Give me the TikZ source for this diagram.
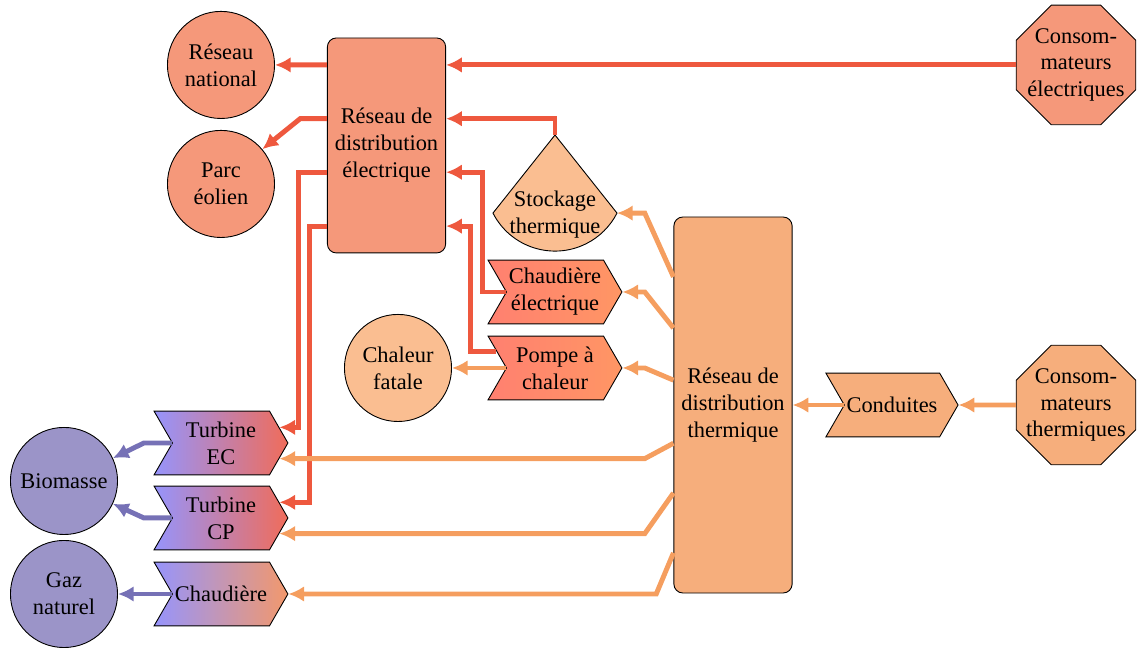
\documentclass[tikz,border=0pt]{standalone}
\usepackage{fontspec}
\setmainfont{Liberation Serif}
\usepackage{xcolor}
\definecolor{elecred}{RGB}{238, 88, 62}
\definecolor{thermorange}{RGB}{245, 158, 95}
\definecolor{fuelpurple}{RGB}{118, 113, 182}
\definecolor{elecfill}{RGB}{245, 152, 122}
\definecolor{thermfill}{RGB}{246, 174, 124}
\definecolor{storefill}{RGB}{250, 190, 145}
\definecolor{fuelfill}{RGB}{155, 148, 200}
\definecolor{gradblue}{RGB}{150, 148, 252}
\definecolor{gradred}{RGB}{240, 108, 90}
\definecolor{gradorange}{RGB}{242, 152, 108}
\definecolor{gradsalmon}{RGB}{255, 128, 112}
\definecolor{gradpeach}{RGB}{255, 150, 100}
\usepackage{tikz}
\usetikzlibrary{arrows.meta, positioning, calc, shapes.geometric, shapes.symbols}

\tikzset{
    hub/.style={draw, rounded corners=4pt, align=center, minimum width=1.79cm},
    source/.style={draw, circle, align=center, minimum size=1.68cm, inner sep=0pt},
    conso/.style={draw, regular polygon, regular polygon sides=8, align=center, minimum size=2.03cm, inner sep=-8pt},
    conv/.style={draw, signal, signal from=west, signal to=east, signal pointer angle=120, align=center, minimum width=2.1cm, minimum height=1cm, inner sep=1pt},
    flow/.style={line width=2.2pt, -{Latex[length=7pt, width=7pt]}},
    elec/.style={flow, elecred},
    therm/.style={flow, thermorange},
    fuel/.style={flow, fuelpurple},
}

\begin{document}
\begin{tikzpicture}
    \useasboundingbox (0,0) rectangle (17.885,10.166);

    % electricity side
    \node[source, fill=elecfill] (natl) at (3.467, 9.147) {Réseau\\national};
    \node[source, fill=elecfill] (eolien) at (3.467, 7.280) {Parc\\éolien};
    \node[hub, fill=elecfill, minimum height=3.373cm] (relec) at (6.064, 7.884) {Réseau de\\distribution\\électrique};
    \node[conso, fill=elecfill] (consoelec) at (16.881, 9.147) {Consom-\\mateurs\\électriques};

    % storage
    \coordinate (stockc) at (8.707, 6.793);
    \coordinate (stocktop) at ($(stockc)+(0,1.255)$);
    \coordinate (stockright) at ($(stockc)+(0.973,0.03)$);
    \draw[fill=storefill] (stocktop) -- ($(stockc)+(-0.973,0.03)$) arc[start angle=207, end angle=333, radius=1.092] -- cycle;
    \node[align=center] (stock) at (stockc) {Stockage\\thermique};

    % conversion
    \node[conv, left color=gradsalmon, right color=gradpeach] (chelec) at (8.707, 5.585) {Chaudière\\électrique};
    \node[conv, left color=gradsalmon, right color=gradpeach] (pac) at (8.707, 4.393) {Pompe à\\chaleur};
    \node[source, fill=storefill] (fatale) at (6.244, 4.393) {Chaleur\\fatale};
    \node[conv, left color=gradblue, right color=gradred] (turbEC) at (3.467, 3.216) {Turbine\\EC};
    \node[conv, left color=gradblue, right color=gradred] (turbCP) at (3.467, 2.040) {Turbine\\CP};
    \node[conv, left color=gradblue, right color=gradorange] (chaud) at (3.467, 0.847) {Chaudière};
    \node[source, fill=fuelfill] (biomasse) at (1.004, 2.620) {Biomasse};
    \node[source, fill=fuelfill] (gaz) at (1.004, 0.847) {Gaz\\naturel};

    % heat side
    \node[hub, fill=thermfill, minimum width=1.757cm, minimum height=5.899cm] (rtherm) at (11.5, 3.812) {Réseau de\\distribution\\thermique};
    \node[conv, fill=thermfill, minimum width=2.07cm] (conduites) at (13.994, 3.812) {Conduites};
    \node[conso, fill=thermfill] (consotherm) at (16.881, 3.812) {Consom-\\mateurs\\thermiques};

    % electric flows
    \draw[elec] ([yshift=1.265cm]relec.west) -- (natl.east);
    \draw[elec] ([yshift=0.42cm]relec.west) -- ++(-0.42,0) -- (eolien.40);
    \draw[elec] (consoelec.west) -- (consoelec.west -| relec.east);
    \draw[elec] (stocktop) |- ([yshift=0.42cm]relec.east);
    \draw[elec] (chelec.west) -| ([xshift=0.565cm, yshift=-0.42cm]relec.east) -- ([yshift=-0.42cm]relec.east);
    \draw[elec] (pac.164) -| ([xshift=0.38cm, yshift=-1.265cm]relec.east) -- ([yshift=-1.265cm]relec.east);
    \draw[elec] ([yshift=-0.42cm]relec.west) -- ++(-0.44,0) |- (turbEC.15);
    \draw[elec] ([yshift=-1.265cm]relec.west) -- ++(-0.27,0) |- (turbCP.15);

    % heat flows
    \draw[therm] ([yshift=2.01cm]rtherm.west) -- ([xshift=-0.45cm]rtherm.west |- stockright) -- (stockright);
    \draw[therm] ([yshift=1.208cm]rtherm.west) -- ([xshift=-0.45cm]rtherm.west |- chelec.east) -- (chelec.east);
    \draw[therm] ([yshift=0.39cm]rtherm.west) -- ([xshift=-0.45cm]rtherm.west |- pac.east) -- (pac.east);
    \draw[therm] (pac.west) -- (fatale.east);
    \draw[therm] ([yshift=-0.6cm]rtherm.west) -- ([xshift=-0.45cm]rtherm.west |- turbEC.-15) -- (turbEC.-15);
    \draw[therm] ([yshift=-1.38cm]rtherm.west) -- ([xshift=-0.45cm]rtherm.west |- turbCP.-15) -- (turbCP.-15);
    \draw[therm] ([yshift=-2.32cm]rtherm.west) -- ([xshift=-0.27cm]rtherm.west |- chaud.east) -- (chaud.east);
    \draw[therm] (conduites.west) -- (rtherm.east);
    \draw[therm] (consotherm.west) -- (conduites.east);

    % fuel flows
    \draw[fuel] (turbEC.west) -- ++(-0.44,0) -- (biomasse.25);
    \draw[fuel] (turbCP.west) -- ++(-0.44,0) -- (biomasse.-25);
    \draw[fuel] (chaud.west) -- (gaz.east);
\end{tikzpicture}
\end{document}
